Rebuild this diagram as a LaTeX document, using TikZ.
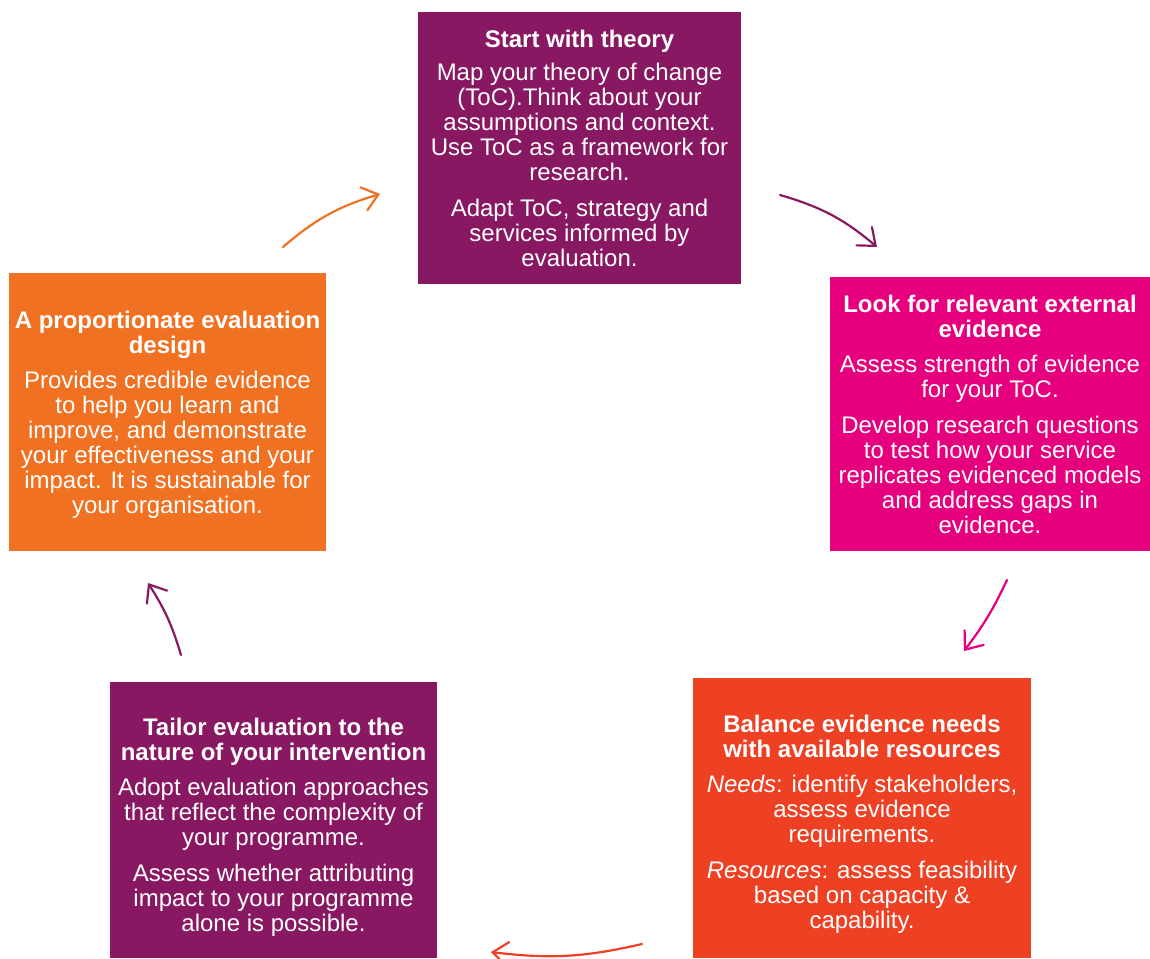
\documentclass[tikz,border=0pt]{standalone}
\usepackage{fontspec}
\setmainfont{Liberation Sans}
\usetikzlibrary{arrows.meta}
\definecolor{plum}{RGB}{135,24,97}
\definecolor{magentapink}{RGB}{230,0,126}
\definecolor{vermilion}{RGB}{238,64,35}
\definecolor{tangerine}{RGB}{240,113,34}
\tikzset{
  card/.style={rectangle, text=white, align=center, inner sep=0pt,
    font=\fontsize{24}{25}\selectfont},
  flow/.style={line width=2.2pt, line cap=round,
    -{Straight Barb[length=15pt,width=24pt,line cap=round]}}
}
% invisible strut that lowers a card's text block
\newcommand{\lowerby}[1]{\rule{0pt}{#1}}
\begin{document}
\begin{tikzpicture}[x=1pt,y=1pt]
\useasboundingbox (0,0) rectangle (1150,-958);

\node[card, fill=plum, minimum width=323, minimum height=272] (theory) at (579.5,-148)
  {\textbf{Start with theory}\\[8pt]
   Map your theory of change\\(ToC).Think about your\\assumptions and context.\\Use ToC as a framework for\\research.\\[11pt]
   Adapt ToC, strategy and\\services informed by\\evaluation.};

\node[card, fill=magentapink, minimum width=320, minimum height=274] (external) at (990,-414)
  {\textbf{Look for relevant external}\\\textbf{evidence}\\[10pt]
   Assess strength of evidence\\for your ToC.\\[11pt]
   Develop research questions\\to test how your service\\replicates evidenced models\\and address gaps in\\evidence.};

\node[card, fill=vermilion, minimum width=338, minimum height=280] (balance) at (862,-818)
  {\lowerby{29.5pt}\textbf{Balance evidence needs}\\\textbf{with available resources}\\[10pt]
   \textit{Needs}: identify stakeholders,\\assess evidence\\requirements.\\[11pt]
   \textit{Resources}: assess feasibility\\based on capacity \&\\capability.};

\node[card, fill=plum, minimum width=327, minimum height=276] (tailor) at (273.5,-820)
  {\lowerby{31.5pt}\textbf{Tailor evaluation to the}\\\textbf{nature of your intervention}\\[10pt]
   Adopt evaluation approaches\\that reflect the complexity of\\your programme.\\[11pt]
   Assess whether attributing\\impact to your programme\\alone is possible.};

\node[card, fill=tangerine, minimum width=317, minimum height=278] (design) at (167.5,-412)
  {\lowerby{23.5pt}\textbf{A proportionate evaluation}\\\textbf{design}\\[10pt]
   Provides credible evidence\\to help you learn and\\improve, and demonstrate\\your effectiveness and your\\impact. It is sustainable for\\your organisation.};

% arrow end points around the cycle
\coordinate (a1s) at (283,-247);  \coordinate (a1e) at (380,-194);
\coordinate (a2s) at (780,-195);  \coordinate (a2e) at (877,-247);
\coordinate (a3s) at (1007,-580); \coordinate (a3e) at (964,-651);
\coordinate (a4s) at (642,-944);  \coordinate (a4e) at (491,-952);
\coordinate (a5s) at (181,-655);  \coordinate (a5e) at (148,-583);

\draw[flow, tangerine] (a1s) to[bend left=12] (a1e);
\draw[flow, plum] (a2s) to[bend left=12] (a2e);
\draw[flow, magentapink] (a3s) to[bend left=6] (a3e);
\draw[flow, vermilion] (a4s) to[bend left=10] (a4e);
\draw[flow, plum] (a5s) to[bend right=8] (a5e);
\end{tikzpicture}
\end{document}
